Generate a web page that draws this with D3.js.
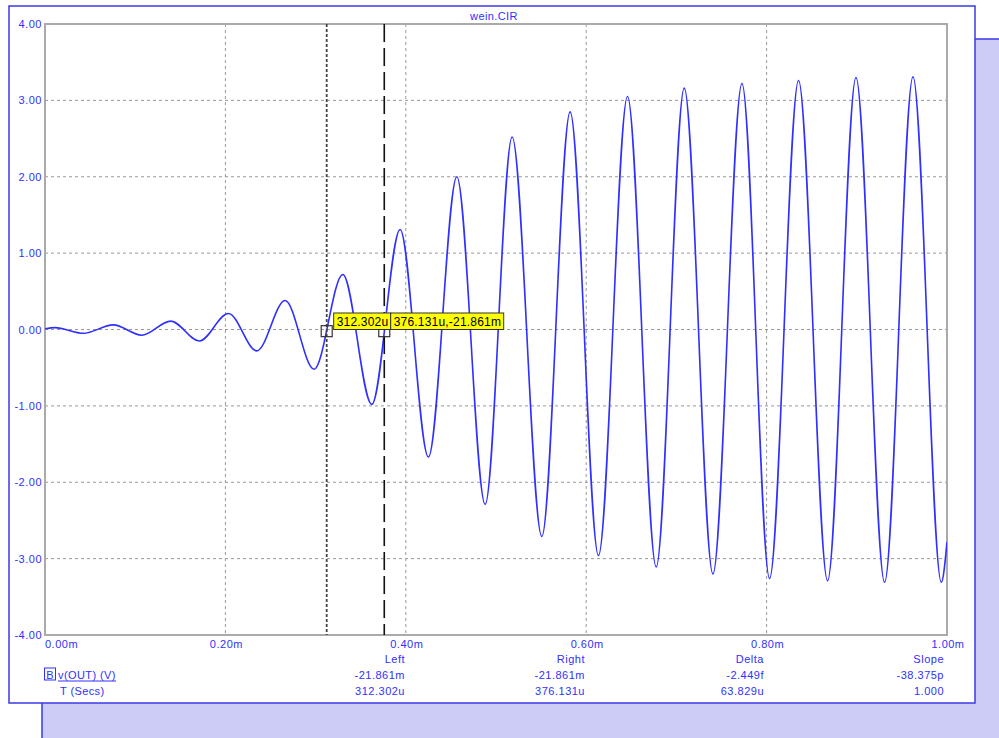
<!DOCTYPE html>
<html>
<head>
<meta charset="utf-8">
<script src="https://cdn.jsdelivr.net/npm/d3@7"></script>
<style>
  html, body { margin: 0; padding: 0; background: #fff; }
  svg text { font-family: "Liberation Sans", Arial, sans-serif; }
</style>
</head>
<body>
<div id="box-plot"></div>
<script>
// extrema of v(OUT) (time in ms, volts)
var tMs  = [0.000, 0.011, 0.0425, 0.0757, 0.1072, 0.1394, 0.1711, 0.2033, 0.2348, 0.2662, 0.2983,
            0.3302, 0.3623, 0.3937, 0.4251, 0.4566, 0.4880, 0.5179, 0.5508, 0.5822, 0.6136,
            0.6458, 0.6776, 0.7087, 0.7405, 0.7727, 0.8033, 0.8354, 0.8676, 0.8991, 0.9308,
            0.9623, 0.9937, 1.000];
var vOut = [0.01, 0.025, -0.05, 0.06, -0.075, 0.11, -0.15, 0.21, -0.28, 0.38, -0.52,
            0.72, -0.98, 1.31, -1.67, 2.00, -2.29, 2.52, -2.71, 2.85, -2.96,
            3.05, -3.11, 3.16, -3.20, 3.22, -3.26, 3.26, -3.29, 3.30, -3.31,
            3.31, -3.31, -2.78];

var yTicks = [4, 3, 2, 1, 0, -1, -2, -3, -4];
var yTickLabels = ["4.00", "3.00", "2.00", "1.00", "0.00", "-1.00", "-2.00", "-3.00", "-4.00"];
var xTicks = [0, 0.2, 0.4, 0.6, 0.8, 1.0];
var xTickLabels = ["0.00m", "0.20m", "0.40m", "0.60m", "0.80m", "1.00m"];

var cursorLeftT = 0.312302, cursorRightT = 0.376131, cursorV = -0.021861;
var cursorTexts = ["312.302u", "376.131u,-21.861m"];

var tableHeads = ["Left", "Right", "Delta", "Slope"];
var tableVals  = ["-21.861m", "-21.861m", "-2.449f", "-38.375p"];
var tableTimes = ["312.302u", "376.131u", "63.829u", "1.000"];

var W = 999, H = 738;
var blue = "#3030ff", edge = "#3a3ae6";

var svg = d3.select("#box-plot").append("svg").attr("width", W).attr("height", H);

// lavender backdrop + white panel
svg.append("rect").attr("x", 42).attr("y", 39).attr("width", 1000).attr("height", 800)
  .attr("fill", "#ccccf7").attr("stroke", edge).attr("stroke-width", 1.5);
svg.append("rect").attr("x", 9).attr("y", 6).attr("width", 966).attr("height", 697)
  .attr("fill", "#fff").attr("stroke", edge).attr("stroke-width", 1.5);

var x = d3.scaleLinear().domain([0, 1]).range([45, 947]);
var y = d3.scaleLinear().domain([-4, 4]).range([635, 24]);

// grid
var g = svg.append("g");
g.selectAll(".hgrid").data(yTicks.filter(function(d){ return Math.abs(d) < 4; }))
  .enter().append("line")
  .attr("x1", x(0)).attr("x2", x(1))
  .attr("y1", function(d){ return y(d); }).attr("y2", function(d){ return y(d); })
  .attr("stroke", "#999").attr("stroke-dasharray", "3,3");
g.selectAll(".vgrid").data(xTicks.filter(function(d){ return d > 0 && d < 1; }))
  .enter().append("line")
  .attr("y1", y(4)).attr("y2", y(-4))
  .attr("x1", function(d){ return x(d); }).attr("x2", function(d){ return x(d); })
  .attr("stroke", "#999").attr("stroke-dasharray", "3,3");

g.append("rect").attr("x", x(0)).attr("y", y(4))
  .attr("width", x(1) - x(0)).attr("height", y(-4) - y(4))
  .attr("fill", "none").attr("stroke", "#aaa").attr("stroke-width", 2);

// axis labels
g.selectAll(".ylab").data(yTicks).enter().append("text")
  .attr("x", 42).attr("y", function(d){ return y(d) + 4; })
  .attr("text-anchor", "end").attr("fill", blue)
  .attr("font-size", 11).attr("letter-spacing", 0.5)
  .text(function(d, i){ return yTickLabels[i]; });

g.selectAll(".xlab").data(xTicks).enter().append("text")
  .attr("x", function(d, i){ return i === 0 ? x(d) : x(d) + 1; })
  .attr("y", 648)
  .attr("text-anchor", function(d, i){ return i === 0 ? "start" : "middle"; })
  .attr("fill", blue).attr("font-size", 11).attr("letter-spacing", 0.5)
  .text(function(d, i){ return xTickLabels[i]; });

svg.append("text").attr("x", 494).attr("y", 19.5).attr("text-anchor", "middle")
  .attr("fill", blue).attr("font-size", 11).attr("letter-spacing", 0.4).text("wein.CIR");

// waveform
svg.append("clipPath").attr("id", "clip").append("rect")
  .attr("x", x(0)).attr("y", y(4)).attr("width", x(1) - x(0)).attr("height", y(-4) - y(4));

var pts = tMs.map(function(t, i){ return [t, vOut[i]]; });
var line = d3.line()
  .x(function(d){ return x(d[0]); })
  .y(function(d){ return y(d[1]); })
  .curve(d3.curveMonotoneX);

svg.append("path").datum(pts).attr("d", line)
  .attr("clip-path", "url(#clip)")
  .attr("fill", "none").attr("stroke", "#2f2fff").attr("stroke-width", 1.6);

// cursors
svg.append("line").attr("x1", x(cursorLeftT)).attr("x2", x(cursorLeftT))
  .attr("y1", y(4)).attr("y2", y(-4))
  .attr("stroke", "#444").attr("stroke-width", 1.8).attr("stroke-dasharray", "3,2");
svg.append("line").attr("x1", x(cursorRightT)).attr("x2", x(cursorRightT))
  .attr("y1", y(4)).attr("y2", y(-4))
  .attr("stroke", "#111").attr("stroke-width", 1.6).attr("stroke-dasharray", "18,6");

[cursorLeftT, cursorRightT].forEach(function(t){
  svg.append("rect").attr("x", x(t) - 5.5).attr("y", y(cursorV) - 5.5)
    .attr("width", 11).attr("height", 11)
    .attr("fill", "none").attr("stroke", "#333").attr("stroke-width", 1.2);
});

// cursor value tags
var tagY = 313, tagH = 16.5;
var tag1x = x(cursorLeftT) + 7, tag1w = 57;
var tag2x = tag1x + tag1w, tag2w = 113;
[[tag1x, tag1w, cursorTexts[0]], [tag2x, tag2w, cursorTexts[1]]].forEach(function(d){
  svg.append("rect").attr("x", d[0]).attr("y", tagY).attr("width", d[1]).attr("height", tagH)
    .attr("fill", "#ffff00").attr("stroke", "#333").attr("stroke-width", 1);
  svg.append("text").attr("x", d[0] + 3).attr("y", tagY + 12.5)
    .attr("fill", "#000").attr("font-size", 12).attr("letter-spacing", 0.2).text(d[2]);
});

// readout table
var colRight = [405, 585, 764, 944];
var tb = svg.append("g").attr("fill", blue).attr("font-size", 11).attr("letter-spacing", 0.5)
  .attr("text-anchor", "end");
tb.selectAll(".th").data(tableHeads).enter().append("text")
  .attr("x", function(d, i){ return colRight[i]; }).attr("y", 663).text(function(d){ return d; });
tb.selectAll(".tv").data(tableVals).enter().append("text")
  .attr("x", function(d, i){ return colRight[i]; }).attr("y", 679).text(function(d){ return d; });
tb.selectAll(".tt").data(tableTimes).enter().append("text")
  .attr("x", function(d, i){ return colRight[i]; }).attr("y", 694.5).text(function(d){ return d; });

svg.append("rect").attr("x", 44.5).attr("y", 668).attr("width", 11).attr("height", 12)
  .attr("fill", "none").attr("stroke", blue).attr("stroke-width", 1);
svg.append("text").attr("x", 50).attr("y", 678.5).attr("text-anchor", "middle")
  .attr("fill", blue).attr("font-size", 11).text("B");
svg.append("text").attr("x", 58).attr("y", 679).attr("fill", blue)
  .attr("font-size", 11).attr("letter-spacing", 0.4).text("v(OUT) (V)");
svg.append("line").attr("x1", 58).attr("x2", 116).attr("y1", 681).attr("y2", 681)
  .attr("stroke", blue).attr("stroke-width", 1);
svg.append("text").attr("x", 60).attr("y", 694.5).attr("fill", blue)
  .attr("font-size", 11).attr("letter-spacing", 0.4).text("T (Secs)");
</script>
</body>
</html>
